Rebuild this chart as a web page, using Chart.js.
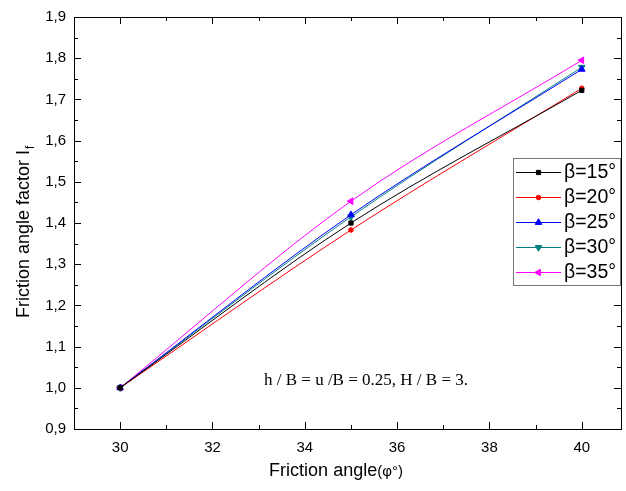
<!DOCTYPE html>
<html>
<head>
<meta charset="utf-8">
<script src="https://cdn.jsdelivr.net/npm/chart.js@4.4.1/dist/chart.umd.min.js"></script>
<style>
  html, body { margin: 0; padding: 0; background: #fff; }
  #wrap { width: 626px; height: 491px; }
</style>
</head>
<body>
<div id="wrap"><canvas id="chart" width="626" height="491"></canvas></div>
<script>
// friction angle (deg) on x
const angles = [30, 35, 40];
// friction angle factor If for each beta
const beta15 = [1.0, 1.400, 1.722];
const beta20 = [1.0, 1.383, 1.727];
const beta25 = [1.0, 1.420, 1.773];
const beta30 = [1.0, 1.415, 1.778];
const beta35 = [1.0, 1.453, 1.795];

const seriesLabels = ['β=15°', 'β=20°', 'β=25°', 'β=30°', 'β=35°'];
const xTickValues = [30, 32, 34, 36, 38, 40];
const yTickValues = [0.9, 1.0, 1.1, 1.2, 1.3, 1.4, 1.5, 1.6, 1.7, 1.8, 1.9];

const colors = ['#000000', '#ff0000', '#0000ff', '#008080', '#ff00ff'];
const markers = [
  { style: 'rect', rot: 0, r: 3 },
  { style: 'circle', rot: 0, r: 2.3 },
  { style: 'triangle', rot: 0, r: 3.8 },
  { style: 'triangle', rot: 180, r: 3.8 },
  { style: 'triangle', rot: 270, r: 3.8 }
];

const allSeries = [beta15, beta20, beta25, beta30, beta35];

function makeDataset(values, i) {
  return {
    label: seriesLabels[i],
    data: angles.map((a, k) => ({ x: a, y: values[k] })),
    borderColor: colors[i],
    backgroundColor: colors[i],
    borderWidth: 1,
    pointStyle: markers[i].style,
    rotation: markers[i].rot,
    pointRadius: markers[i].r,
    pointBorderWidth: 1,
    cubicInterpolationMode: 'monotone',
    fill: false
  };
}

// frame, inward ticks, titles, note and legend
const decorations = {
  id: 'decorations',
  afterDraw(chart) {
    const ctx = chart.ctx;
    const a = chart.chartArea;
    const xs = chart.scales.x;
    const ys = chart.scales.y;
    ctx.save();
    ctx.strokeStyle = '#000';
    ctx.lineWidth = 1;
    ctx.strokeRect(a.left + 0.5, a.top + 0.5, a.right - a.left, a.bottom - a.top);

    ctx.beginPath();
    for (let v = 29; v <= 40.9; v += 1) {
      const px = Math.round(xs.getPixelForValue(v)) + 0.5;
      const len = (v % 2 === 0) ? 7 : 4;
      ctx.moveTo(px, a.bottom); ctx.lineTo(px, a.bottom - len);
      ctx.moveTo(px, a.top); ctx.lineTo(px, a.top + len);
    }
    for (let k = 0; k <= 20; k++) {
      const v = 0.9 + k * 0.05;
      const py = Math.round(ys.getPixelForValue(v)) + 0.5;
      const len = (k % 2 === 0) ? 7 : 4;
      ctx.moveTo(a.left, py); ctx.lineTo(a.left + len, py);
      ctx.moveTo(a.right, py); ctx.lineTo(a.right - len, py);
    }
    ctx.stroke();

    // axis titles
    ctx.fillStyle = '#000';
    ctx.font = '18px "Liberation Sans", Arial, sans-serif';
    ctx.textBaseline = 'middle';
    ctx.save();
    ctx.translate(24, 230);
    ctx.rotate(-Math.PI / 2);
    const yt = 'Friction angle factor I';
    const ytw = ctx.measureText(yt).width;
    ctx.textAlign = 'left';
    ctx.fillText(yt, -ytw / 2 - 4, 0);
    ctx.font = '12px "Liberation Sans", Arial, sans-serif';
    ctx.fillText('f', ytw / 2 - 3, 7);
    ctx.restore();

    ctx.font = '18px "Liberation Sans", Arial, sans-serif';
    const xt1 = 'Friction angle';
    const xt2 = '(φ°)';
    const w1 = ctx.measureText(xt1).width;
    ctx.font = '15px "Liberation Sans", Arial, sans-serif';
    const w2 = ctx.measureText(xt2).width;
    let sx = 336 - (w1 + w2) / 2;
    ctx.textAlign = 'left';
    ctx.font = '18px "Liberation Sans", Arial, sans-serif';
    ctx.fillText(xt1, sx, 471);
    ctx.font = '15px "Liberation Sans", Arial, sans-serif';
    ctx.fillText(xt2, sx + w1, 472);

    // note
    ctx.font = '17px "Liberation Serif", "Times New Roman", serif';
    ctx.textAlign = 'left';
    ctx.fillText('h / B = u /B = 0.25, H / B = 3.', 264, 381);

    // legend box
    const lx = 513, ly = 158, lw = 107, lh = 127;
    ctx.fillStyle = '#fff';
    ctx.fillRect(lx, ly, lw, lh);
    ctx.strokeStyle = '#777';
    ctx.strokeRect(lx + 0.5, ly + 0.5, lw, lh);
    chart.data.datasets.forEach((ds, i) => {
      const yy = 172 + i * 25;
      ctx.strokeStyle = ds.borderColor;
      ctx.lineWidth = 1;
      ctx.beginPath();
      ctx.moveTo(516, yy + 0.5); ctx.lineTo(561, yy + 0.5);
      ctx.stroke();
      ctx.fillStyle = ds.backgroundColor;
      Chart.helpers.drawPoint(ctx, {
        pointStyle: ds.pointStyle, rotation: ds.rotation,
        radius: ds.pointRadius, borderWidth: 1
      }, 538.5, yy + 0.5);
      ctx.fillStyle = '#000';
      ctx.font = '19.5px "Liberation Sans", Arial, sans-serif';
      ctx.textAlign = 'left';
      ctx.fillText(ds.label, 564, yy + 1);
    });
    ctx.restore();
  }
};

new Chart(document.getElementById('chart'), {
  type: 'line',
  data: { datasets: allSeries.map(makeDataset) },
  options: {
    responsive: false,
    animation: false,
    layout: { padding: { top: 17, right: 2, left: 0, bottom: 0 } },
    plugins: { legend: { display: false }, tooltip: { enabled: false } },
    scales: {
      x: {
        type: 'linear',
        min: 29,
        max: 40.85,
        afterBuildTicks(scale) { scale.ticks = xTickValues.map(v => ({ value: v })); },
        afterFit(scale) { scale.height = 62; },
        grid: { display: false, drawTicks: false },
        border: { display: false },
        ticks: {
          color: '#000',
          padding: 10,
          maxRotation: 0,
          font: { family: '"Liberation Sans", Arial, sans-serif', size: 15 },
          callback: v => String(v)
        }
      },
      y: {
        type: 'linear',
        min: 0.9,
        max: 1.9,
        afterBuildTicks(scale) { scale.ticks = yTickValues.map(v => ({ value: v })); },
        afterFit(scale) { scale.width = 74; },
        grid: { display: false, drawTicks: false },
        border: { display: false },
        ticks: {
          color: '#000',
          padding: 8,
          font: { family: '"Liberation Sans", Arial, sans-serif', size: 15 },
          callback: v => Number(v).toFixed(1).replace('.', ',')
        }
      }
    }
  },
  plugins: [decorations]
});
</script>
</body>
</html>
